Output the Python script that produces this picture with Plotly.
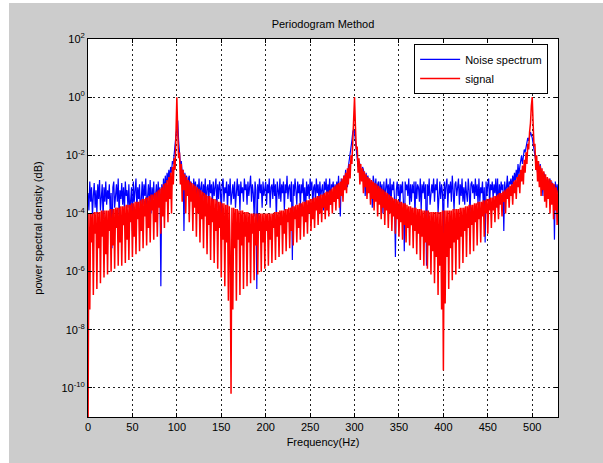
import plotly.graph_objects as go

# Frequency bins (Hz), 1 Hz spacing
freq = list(range(0, 530))

# Signal periodogram, log10 of power spectral density (20 Hz per row)
signal_log = [
    -12, -4.0, -7.3, -4.0, -5.0, -4.0, -6.8, -3.95, -4.7, -3.95, -6.6, -3.95, -5.2, -3.95, -6.4, -3.9, -4.8, -3.9, -6.2, -3.9,
    -5.4, -3.9, -6.1, -3.9, -4.6, -3.85, -6.0, -3.85, -5.1, -3.85, -5.9, -3.8, -4.5, -3.8, -5.8, -3.8, -5.0, -3.75, -5.8, -3.75,
    -4.4, -3.75, -5.7, -3.7, -4.9, -3.7, -5.6, -3.7, -4.3, -3.65, -5.5, -3.65, -4.8, -3.6, -5.4, -3.6, -4.2, -3.6, -5.3, -3.55,
    -4.6, -3.5, -5.2, -3.5, -4.1, -3.45, -5.1, -3.45, -4.5, -3.4, -5.0, -3.35, -3.9, -3.35, -4.9, -3.3, -4.3, -3.25, -4.8, -3.2,
    -3.8, -3.15, -4.7, -3.1, -4.1, -3.0, -4.5, -2.95, -3.6, -2.85, -4.3, -2.75, -3.5, -2.6, -4.0, -2.4, -3.0, -2.1, -2.5, -1.4,
    0.0, -1.2, -2.1, -1.9, -3.0, -2.3, -3.6, -2.5, -3.2, -2.65, -4.0, -2.75, -3.4, -2.85, -4.3, -2.9, -3.6, -2.95, -4.6, -3.0,
    -3.8, -3.05, -4.8, -3.1, -4.0, -3.15, -5.0, -3.2, -4.2, -3.25, -5.2, -3.3, -4.1, -3.35, -5.4, -3.4, -4.4, -3.4, -5.6, -3.45,
    -4.3, -3.5, -5.7, -3.5, -4.6, -3.55, -5.9, -3.6, -4.5, -3.6, -6.2, -3.65, -4.9, -3.65, -6.5, -3.7, -5.0, -3.7, -7.0, -3.75,
    -5.3, -10.2, -3.8, -7.3, -3.8, -5.2, -3.85, -7.0, -3.85, -4.9, -3.9, -6.8, -3.9, -5.1, -3.9, -6.6, -3.95, -4.8, -3.95, -6.5,
    -3.95, -5.0, -4.0, -6.4, -4.0, -4.7, -4.0, -6.3, -4.0, -5.1, -4.0, -6.1, -4.0, -4.6, -4.0, -6.0, -4.0, -5.0, -4.0, -5.9,
    -4.0, -4.6, -4.0, -5.8, -4.0, -4.9, -4.0, -5.7, -4.0, -4.5, -3.95, -5.6, -3.95, -4.8, -3.95, -5.5, -3.9, -4.4, -3.9, -5.4,
    -3.9, -4.7, -3.85, -5.3, -3.85, -4.3, -3.8, -5.2, -3.8, -4.6, -3.75, -5.1, -3.75, -4.2, -3.7, -5.0, -3.7, -4.5, -3.65, -4.9,
    -3.65, -4.1, -3.6, -4.8, -3.6, -4.3, -3.55, -4.7, -3.55, -4.0, -3.5, -4.6, -3.5, -4.2, -3.45, -4.5, -3.45, -3.9, -3.4, -4.4,
    -3.4, -4.0, -3.35, -4.3, -3.35, -3.8, -3.3, -4.2, -3.25, -3.9, -3.25, -4.1, -3.2, -3.7, -3.15, -4.0, -3.1, -3.6, -3.05, -3.9,
    -3.0, -3.5, -2.95, -3.8, -2.9, -3.4, -2.8, -3.6, -2.7, -3.2, -2.6, -3.3, -2.45, -3.0, -2.3, -2.8, -2.0, -2.3, -1.5, -0.8,
    0.0, -1.0, -1.8, -1.7, -2.6, -2.1, -3.0, -2.3, -2.9, -2.45, -3.3, -2.55, -3.1, -2.65, -3.5, -2.75, -3.3, -2.8, -3.7, -2.85,
    -3.5, -2.9, -3.9, -2.95, -3.6, -3.0, -4.1, -3.05, -3.7, -3.1, -4.2, -3.15, -3.8, -3.2, -4.4, -3.25, -3.9, -3.3, -4.5, -3.35,
    -4.0, -3.4, -4.6, -3.45, -4.1, -3.5, -4.7, -3.5, -4.2, -3.55, -4.8, -3.6, -4.3, -3.6, -4.9, -3.65, -4.4, -3.65, -5.0, -3.7,
    -4.5, -3.75, -5.1, -3.75, -4.4, -3.8, -5.2, -3.8, -4.6, -3.8, -5.4, -3.85, -4.7, -3.85, -5.6, -3.85, -4.8, -3.9, -5.8, -3.9,
    -5.0, -3.9, -5.9, -3.9, -5.1, -3.95, -6.1, -3.95, -5.3, -3.95, -6.4, -3.95, -5.5, -3.95, -6.8, -3.95, -5.8, -3.95, -7.3, -3.9,
    -9.4, -3.9, -7.1, -3.9, -5.5, -3.9, -6.6, -3.9, -5.2, -3.9, -6.3, -3.85, -5.0, -3.85, -6.1, -3.85, -4.9, -3.85, -5.9, -3.8,
    -4.8, -3.8, -5.7, -3.8, -4.6, -3.75, -5.5, -3.75, -4.5, -3.7, -5.4, -3.7, -4.4, -3.7, -5.3, -3.65, -4.3, -3.65, -5.1, -3.6,
    -4.2, -3.6, -5.0, -3.6, -4.1, -3.55, -4.8, -3.55, -4.0, -3.5, -4.7, -3.5, -3.9, -3.45, -4.5, -3.45, -3.9, -3.4, -4.3, -3.4,
    -3.8, -3.35, -4.2, -3.3, -3.7, -3.3, -4.1, -3.25, -3.6, -3.2, -4.0, -3.15, -3.5, -3.1, -3.8, -3.05, -3.4, -3.0, -3.7, -2.9,
    -3.3, -2.85, -3.5, -2.75, -3.1, -2.65, -3.3, -2.5, -2.9, -2.35, -3.0, -2.15, -2.6, -1.9, -2.3, -1.6, -1.8, -1.2, -0.9, -0.3,
    0.0, -0.9, -1.7, -1.6, -2.5, -2.0, -2.9, -2.2, -3.1, -2.35, -3.4, -2.45, -3.2, -2.55, -3.6, -2.65, -3.8, -2.75, -3.5, -2.8,
    -4.0, -2.85, -3.7, -2.95, -4.2, -3.0, -3.9, -3.1, -4.4, -3.2,
]

# Noise spectrum, log10 of power spectral density (20 Hz per row)
noise_log = [
    -3.3, -3.9, -2.9, -3.6, -3.1, -4.1, -3.4, -2.95, -3.8, -3.2, -4.0, -3.0, -3.5, -2.85, -3.9, -3.3, -3.0, -4.2, -3.1, -3.6,
    -2.9, -3.7, -3.2, -3.5, -3.0, -4.0, -3.3, -5.2, -3.1, -2.9, -3.8, -3.4, -3.0, -3.6, -2.8, -4.1, -3.2, -3.5, -2.95, -3.7,
    -3.1, -3.9, -2.9, -3.4, -3.2, -3.8, -3.0, -4.0, -3.3, -3.1, -4.6, -2.9, -3.6, -3.2, -2.8, -3.9, -3.1, -3.5, -3.0, -4.1,
    -3.2, -2.9, -3.7, -3.0, -3.4, -2.8, -3.9, -3.2, -3.0, -3.6, -2.85, -4.0, -3.1, -3.5, -2.9, -3.8, -3.2, -3.0, -3.7, -2.9,
    -3.4, -3.1, -6.5, -3.0, -3.5, -2.8, -3.3, -2.7, -3.2, -2.6, -2.9, -2.5, -2.8, -2.4, -2.6, -2.2, -2.3, -1.9, -1.6, -1.3,
    -1.1, -0.8, -1.5, -2.0, -2.3, -2.2, -2.6, -2.5, -4.6, -2.6, -3.0, -2.7, -3.3, -2.8, -2.7, -3.4, -2.9, -3.1, -3.6, -2.8,
    -3.2, -2.9, -3.7, -3.0, -3.3, -2.8, -3.5, -3.1, -2.9, -3.8, -3.0, -3.4, -2.8, -3.9, -3.1, -3.0, -3.6, -2.85, -3.3, -3.0,
    -3.7, -2.9, -3.4, -3.1, -2.8, -3.8, -3.0, -3.5, -2.9, -3.2, -4.0, -3.0, -2.8, -3.6, -3.1, -3.3, -2.9, -3.9, -3.0, -3.4,
    -2.8, -3.7, -3.1, -3.0, -3.5, -2.9, -3.8, -3.2, -2.8, -3.4, -3.0, -3.9, -2.9, -3.3, -3.1, -3.6, -2.8, -3.2, -3.0, -3.7,
    -2.9, -3.4, -3.1, -2.7, -3.6, -3.0, -3.3, -4.1, -2.9, -3.2, -6.6, -3.0, -3.5, -2.8, -3.3, -3.0, -3.8, -2.9, -3.4, -3.1,
    -2.9, -3.7, -3.0, -3.3, -2.8, -3.8, -3.1, -3.0, -3.5, -2.8, -3.4, -3.0, -4.2, -2.9, -3.2, -3.5, -2.8, -3.6, -3.0, -3.3,
    -2.9, -3.9, -3.0, -3.3, -2.7, -3.5, -3.1, -3.0, -3.6, -2.9, -5.6, -3.0, -3.4, -2.8, -3.2, -3.7, -2.9, -3.3, -3.0, -3.8,
    -3.0, -3.3, -2.8, -3.6, -3.1, -4.0, -2.9, -3.4, -3.0, -3.5, -2.8, -3.2, -2.9, -3.8, -3.1, -3.0, -3.6, -2.8, -3.3, -3.0,
    -3.6, -2.9, -3.4, -3.1, -3.0, -3.9, -2.9, -3.2, -2.8, -3.5, -3.0, -3.3, -2.8, -3.7, -3.0, -3.1, -2.9, -3.6, -3.0, -3.3,
    -2.9, -3.3, -2.7, -3.5, -4.1, -2.8, -3.2, -3.0, -2.7, -2.9, -2.5, -2.8, -3.1, -2.4, -2.2, -2.0, -1.8, -1.5, -1.2, -1.1,
    -1.2, -1.5, -1.8, -2.0, -2.4, -2.2, -2.3, -2.6, -2.8, -2.4, -2.5, -2.7, -3.4, -2.6, -2.9, -2.7, -3.1, -2.8, -3.3, -2.9,
    -3.8, -2.7, -3.0, -3.2, -2.8, -3.5, -3.0, -2.9, -3.6, -2.9, -3.3, -3.0, -4.0, -2.9, -3.5, -3.1, -2.8, -3.4, -3.0, -3.6,
    -2.8, -3.7, -3.0, -3.2, -2.9, -3.5, -5.5, -3.2, -2.9, -3.4, -3.0, -3.8, -3.0, -3.3, -2.9, -3.6, -5.3, -2.9, -3.2, -3.0,
    -3.4, -2.8, -3.7, -3.0, -3.6, -3.0, -3.3, -2.9, -4.1, -2.9, -3.5, -3.0, -3.1, -3.6, -2.8, -3.9, -3.0, -3.3, -2.9, -3.5,
    -3.0, -5.8, -3.0, -3.4, -2.8, -3.7, -3.1, -3.0, -3.3, -2.8, -3.6, -3.0, -3.2, -2.8, -4.0, -3.1, -2.9, -3.5, -3.0, -3.3,
    -4.9, -2.9, -3.5, -3.0, -2.8, -3.8, -3.0, -3.3, -2.9, -3.6, -2.7, -3.2, -3.9, -3.0, -2.9, -3.4, -3.1, -2.8, -3.7, -3.0,
    -3.4, -2.8, -3.6, -3.1, -3.7, -2.9, -3.3, -3.6, -2.8, -3.2, -4.0, -3.0, -2.9, -3.3, -3.0, -3.5, -2.8, -3.4, -3.0, -3.7,
    -2.8, -3.6, -3.1, -3.3, -2.9, -3.8, -3.1, -5.0, -2.9, -3.4, -3.0, -2.8, -3.7, -3.0, -3.2, -2.9, -3.5, -3.0, -3.3, -2.8,
    -3.6, -2.8, -3.9, -3.0, -3.4, -2.9, -3.2, -3.0, -4.6, -2.9, -3.3, -3.1, -2.7, -3.5, -2.9, -3.0, -2.8, -3.2, -2.7, -3.0,
    -2.6, -2.9, -2.5, -2.8, -2.3, -2.7, -2.4, -2.2, -2.0, -2.3, -1.9, -1.8, -1.9, -1.7, -1.6, -1.4, -1.5, -1.3, -1.2, -1.3,
    -1.4, -1.6, -1.8, -1.9, -2.1, -2.3, -2.6, -2.2, -2.9, -2.3, -2.5, -2.8, -3.4, -2.6, -2.7, -3.0, -3.1, -2.8, -3.3, -2.9,
    -2.8, -3.6, -2.9, -3.2, -3.0, -4.9, -2.9, -3.4, -3.0, -3.3,
]

x_ticks = [0, 50, 100, 150, 200, 250, 300, 350, 400, 450, 500]
y_exps = [-10, -8, -6, -4, -2, 0, 2]
y_ticktext = [f"10<sup>{e}</sup>" for e in y_exps]

n = min(len(freq), len(signal_log), len(noise_log))
f = freq[:n]
signal_psd = [10 ** v for v in signal_log[:n]]
noise_psd = [10 ** v for v in noise_log[:n]]

FONT = "Liberation Sans, Arial, sans-serif"
GRAY = "#cccccc"

fig = go.Figure()
fig.add_trace(go.Scatter(x=f, y=noise_psd, mode="lines", name="Noise spectrum",
                         line=dict(color="#0000ff", width=1.2)))
fig.add_trace(go.Scatter(x=f, y=signal_psd, mode="lines", name="signal",
                         line=dict(color="#ff0000", width=1.5)))

L, R, T, B = 88, 45, 39, 46
W, H = 603, 463
pw, ph = W - L - R, H - T - B

fig.update_layout(
    width=W, height=H,
    margin=dict(l=L, r=R, t=T, b=B, pad=0),
    paper_bgcolor=GRAY,
    plot_bgcolor="white",
    font=dict(family=FONT, size=11, color="black"),
    title=dict(text="Periodogram Method", x=(L + pw / 2) / W, xanchor="center",
               y=1 - 24 / H, yanchor="middle", font=dict(size=11, color="black")),
    showlegend=True,
    legend=dict(x=0.979, xanchor="right", y=0.987, yanchor="top",
                bgcolor="white", bordercolor="black", borderwidth=1,
                font=dict(size=11), itemwidth=40, tracegroupgap=0),
    xaxis=dict(range=[0, 529], tickvals=x_ticks, ticks="inside", ticklen=4,
               tickcolor="black", showline=True, linecolor="black", linewidth=1,
               mirror="ticks", showgrid=True, gridcolor="#222222", gridwidth=1,
               griddash="2px,3px", zeroline=False,
               title=dict(text="Frequency(Hz)", standoff=6, font=dict(size=11)),
               tickfont=dict(size=11)),
    yaxis=dict(type="log", range=[-11, 2], tickvals=[10 ** e for e in y_exps],
               ticktext=y_ticktext, ticks="inside", ticklen=4, tickcolor="black",
               showline=True, linecolor="black", linewidth=1, mirror="ticks",
               showgrid=True, gridcolor="#222222", gridwidth=1, griddash="2px,3px",
               zeroline=False,
               title=dict(text="power spectral density (dB)", standoff=16,
                          font=dict(size=11)),
               tickfont=dict(size=11)),
    shapes=[
        dict(type="rect", xref="paper", yref="paper", layer="below",
             x0=-L / pw, x1=-(L - 9) / pw, y0=-B / ph, y1=1 + T / ph,
             fillcolor="white", line=dict(width=0)),
        dict(type="rect", xref="paper", yref="paper", layer="below",
             x0=-L / pw, x1=1 + R / pw, y0=1 + (T - 3) / ph, y1=1 + T / ph,
             fillcolor="white", line=dict(width=0)),
    ],
)

fig.write_html("out.html")
